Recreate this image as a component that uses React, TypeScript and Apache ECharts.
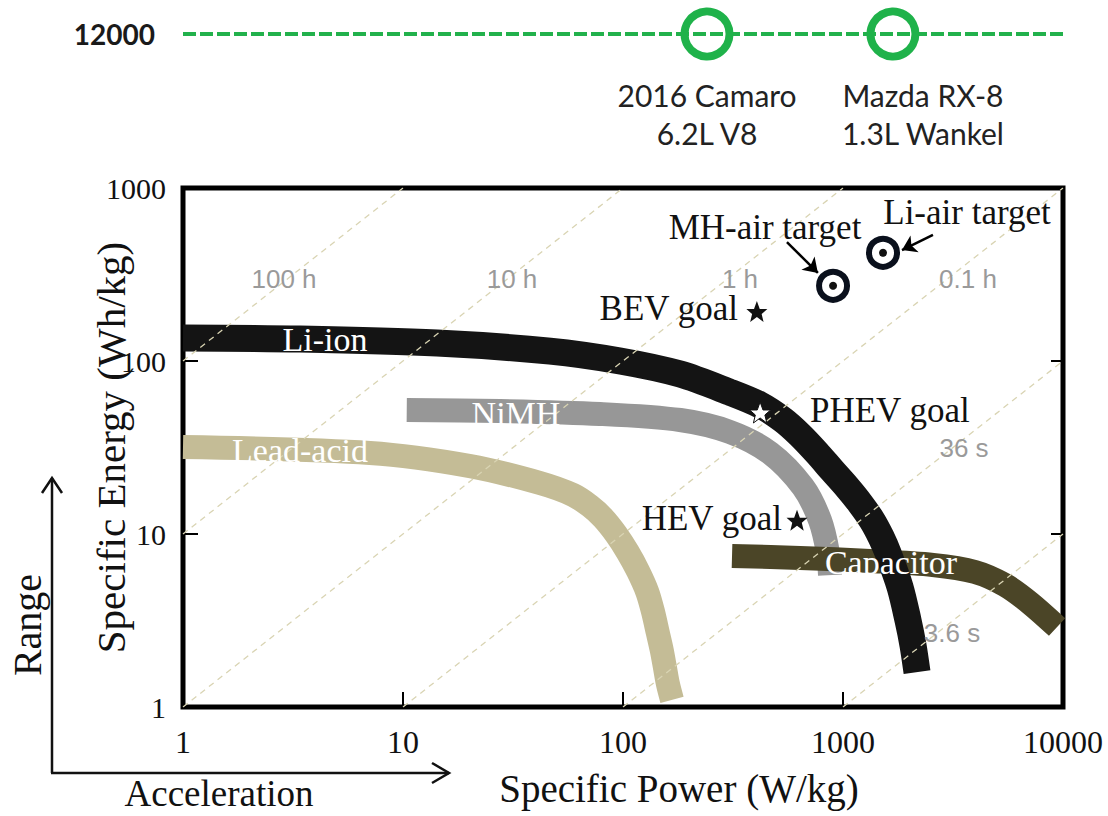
import React, { useEffect, useRef } from 'react';
import * as echarts from 'echarts';

// ---- data (Specific Power W/kg, Specific Energy Wh/kg) ----
const powerTickLabels = ['1', '10', '100', '1000', '10000'];
const energyTickLabels = ['1', '10', '100', '1000'];

const liIon = [[1, 136], [3.4, 134], [14.3, 127], [46.6, 114], [97, 100], [182, 84], [306, 66], [420, 55.7], [534, 45.6], [638, 37.3], [762, 29.4], [891, 23.4], [1042, 18.7], [1194, 15.1], [1355, 12.0], [1489, 9.61], [1602, 7.76], [1816, 4.94], [1974, 3.18], [2080, 2.28], [2170, 1.59]];
const niMH = [[10.4, 52.1], [27.6, 51.4], [78.6, 49.4], [182, 45.6], [306, 38.9], [466, 29.4], [658, 18.7], [786, 12.0], [855, 7.76], [873, 5.79]];
const leadAcid = [[1, 31.8], [7.08, 29.4], [20.2, 24.7], [41.9, 19.7], [59.3, 16.8], [70.8, 14.5], [81.1, 12.4], [92.9, 10.0], [105, 7.87], [117, 6.11], [129, 4.62], [137, 3.54], [144, 2.68], [150, 2.13], [155, 1.7], [160, 1.36], [167, 1.1]];
const capacitor = [[313, 7.46], [638, 7.27], [1327, 6.98], [2564, 6.62], [3981, 6.03], [5450, 5.07], [7080, 3.99], [9400, 2.9]];

const timeLineNames = ['100 h', '10 h', '1 h', '0.1 h', '36 s', '3.6 s'];
const timeLineEnds = [
  [[1, 100], [10, 1000]],
  [[1, 10], [100, 1000]],
  [[1, 1], [1000, 1000]],
  [[10, 1], [10000, 1000]],
  [[100, 1], [10000, 100]],
  [[1000, 1], [10000, 10]],
];

const goalNames = ['BEV goal', 'PHEV goal', 'HEV goal'];
const goalValues = [[406, 193], [420, 50.4], [618, 12.0]];
const targetNames = ['MH-air target', 'Li-air target'];
const targetValues = [[901, 272], [1520, 422]];
const arrowFrom = [[556, 487], [2564, 535]];
const arrowTo = [[769, 323], [1854, 438]];

const engineCategory = ['12000'];
const engineNames = ['2016 Camaro\n6.2L V8', 'Mazda RX-8\n1.3L Wankel'];
const enginePower = [241, 1687];

const SERIF = 'Liberation Serif';
const SANS = 'Liberation Sans';
const STAR = 'path://M12,1 L15,9 L23,9 L17,14 L19,22 L12,17 L5,22 L7,14 L1,9 L9,9 Z';

export default function App() {
  const ref = useRef<HTMLDivElement>(null);
  useEffect(() => {
    if (!ref.current) return;
    document.body.style.margin = '0';
    const chart = echarts.init(ref.current, undefined, { renderer: 'svg' });

    const fmt = (v: number) => String(Math.round(v));
    const band = (name: string, data: number[][], color: string, width: number, z: number) => ({
      name, type: 'line', xAxisIndex: 0, yAxisIndex: 0, data, smooth: 0.3, symbol: 'none',
      lineStyle: { color, width, cap: 'butt', join: 'round' }, z, silent: true,
    });

    const series: any[] = [
      band('Lead-acid', leadAcid, '#c4bc96', 24, 2),
      band('NiMH', niMH, '#979797', 24, 2),
      band('Capacitor', capacitor, '#4b4527', 24, 2),
      band('Li-ion', liIon, '#141414', 27, 2),
    ];
    timeLineEnds.forEach((pts, i) => {
      series.push({
        name: timeLineNames[i], type: 'line', xAxisIndex: 0, yAxisIndex: 0, data: pts, symbol: 'none',
        lineStyle: { color: '#d9d4b3', width: 1.3, type: [6, 5] }, z: 3, silent: true,
      });
    });
    series.push({
      name: 'goals', type: 'scatter', xAxisIndex: 0, yAxisIndex: 0, z: 5,
      data: goalValues.map((v, i) => ({
        name: goalNames[i], value: v,
        itemStyle: i === 1 ? { color: '#ffffff', borderColor: '#111', borderWidth: 1, opacity: 1 } : { color: '#111', opacity: 1 },
      })),
      symbol: STAR, symbolSize: 21,
    });
    series.push({
      name: 'targets', type: 'scatter', xAxisIndex: 0, yAxisIndex: 0, z: 5,
      data: targetValues.map((v, i) => ({ name: targetNames[i], value: v })),
      symbol: 'circle', symbolSize: 28,
      itemStyle: { color: '#ffffff', borderColor: '#0a101c', borderWidth: 6, opacity: 1 },
      markLine: {
        silent: true, symbol: ['none', 'arrow'], symbolSize: 14,
        lineStyle: { color: '#000', width: 2.5, type: 'solid', opacity: 1 }, label: { show: false },
        data: arrowFrom.map((f, i) => [{ coord: f }, { coord: arrowTo[i] }]),
      },
    });
    series.push({
      name: 'target centres', type: 'scatter', xAxisIndex: 0, yAxisIndex: 0, z: 6,
      data: targetValues, symbol: 'circle', symbolSize: 8, itemStyle: { color: '#111', opacity: 1 },
    });
    // top panel
    series.push({
      name: 'gasoline', type: 'line', xAxisIndex: 1, yAxisIndex: 2, symbol: 'none',
      data: [[1, engineCategory[0]], [10000, engineCategory[0]]],
      lineStyle: { color: '#22b14c', width: 4, type: [13, 4] }, z: 2,
    });
    series.push({
      name: 'engines', type: 'scatter', xAxisIndex: 1, yAxisIndex: 2, z: 3,
      data: enginePower.map((p, i) => ({
        name: engineNames[i], value: [p, engineCategory[0]],
        label: { offset: i === 1 ? [30, 0] : [0, 0] },
      })),
      symbol: 'circle', symbolSize: 45,
      itemStyle: { color: 'rgba(0,0,0,0)', borderColor: '#1fb24a', borderWidth: 8, opacity: 1 },
      label: {
        show: true, position: 'bottom', distance: 15, formatter: '{b}',
        fontFamily: 'Lato', fontSize: 30, lineHeight: 38, color: '#222', align: 'center',
      },
    });

    const txt = (text: string, x: number, y: number, opts: any) => ({
      type: 'text', x, y, z: 20, silent: true,
      style: { text, align: 'center', verticalAlign: 'middle', ...opts },
    });
    const annSerif = { fontFamily: SERIF, fontSize: 35, fill: '#111' };
    const curveLbl = { fontFamily: SERIF, fontSize: 34, fill: '#ffffff' };
    const timeLbl = { fontFamily: SANS, fontSize: 26, fill: '#9a9a9a' };

    const graphic: any[] = [
      txt(targetNames[0], 765, 227, annSerif),
      txt(targetNames[1], 967, 212, annSerif),
      txt(goalNames[0], 738, 308, { ...annSerif, align: 'right' }),
      txt(goalNames[1], 810, 410, { ...annSerif, align: 'left' }),
      txt(goalNames[2], 782, 518, { ...annSerif, align: 'right' }),
      txt('Li-ion', 325, 339, curveLbl),
      txt('NiMH', 516, 413, curveLbl),
      txt('Lead-acid', 300, 450, curveLbl),
      txt('Capacitor', 891, 562, curveLbl),
      txt(timeLineNames[0], 284, 279, timeLbl),
      txt(timeLineNames[1], 512, 279, timeLbl),
      txt(timeLineNames[2], 740, 279, timeLbl),
      txt(timeLineNames[3], 968, 279, timeLbl),
      txt(timeLineNames[4], 964, 448, timeLbl),
      txt(timeLineNames[5], 952, 633, timeLbl),
      // Range / Acceleration arrows
      { type: 'line', shape: { x1: 52, y1: 773, x2: 52, y2: 478 }, style: { stroke: '#111', lineWidth: 2.5 }, z: 20 },
      { type: 'polyline', shape: { points: [[42, 493], [52, 478], [62, 493]] }, style: { stroke: '#111', lineWidth: 2.5, fill: 'none' }, z: 20 },
      { type: 'line', shape: { x1: 51, y1: 773, x2: 449, y2: 773 }, style: { stroke: '#111', lineWidth: 2.5 }, z: 20 },
      { type: 'polyline', shape: { points: [[432, 763], [449, 773], [432, 783]] }, style: { stroke: '#111', lineWidth: 2.5, fill: 'none' }, z: 20 },
      { type: 'text', x: 27, y: 625, rotation: Math.PI / 2, z: 20, style: { text: 'Range', align: 'center', verticalAlign: 'middle', fontFamily: SERIF, fontSize: 40, fill: '#111' } },
      txt('Acceleration', 219, 793, { fontFamily: SERIF, fontSize: 37, fill: '#111' }),
    ];

    const option: any = {
      animation: false,
      backgroundColor: '#ffffff',
      grid: [
        { left: 183, top: 188, width: 880, height: 519, show: true, borderColor: '#000', borderWidth: 5, backgroundColor: 'rgba(0,0,0,0)' },
        { left: 183, top: 14, width: 880, height: 40 },
      ],
      xAxis: [
        {
          type: 'log', logBase: 10, min: 1, max: 10000, gridIndex: 0,
          name: 'Specific Power (W/kg)', nameLocation: 'middle', nameGap: 62, nameMoveOverlap: false,
          nameTextStyle: { fontFamily: SERIF, fontSize: 39, color: '#111', padding: [0, 0, 0, 112] },
          axisLine: { show: false },
          axisTick: { show: true, inside: true, length: 15, lineStyle: { color: '#000', width: 2 } },
          axisLabel: {
            margin: 19, fontFamily: SERIF, fontSize: 32, color: '#111',
            formatter: (v: number) => powerTickLabels.includes(fmt(v)) ? fmt(v) : '',
          },
          splitLine: { show: false }, minorTick: { show: false },
        },
        { type: 'log', logBase: 10, min: 1, max: 10000, gridIndex: 1, show: false },
      ],
      yAxis: [
        {
          type: 'log', logBase: 10, min: 1, max: 1000, gridIndex: 0,
          name: 'Specific Energy (Wh/kg)', nameLocation: 'middle', nameGap: 52, nameMoveOverlap: false,
          nameTextStyle: { fontFamily: SERIF, fontSize: 41, color: '#111' },
          axisLine: { show: false },
          axisTick: { show: true, inside: true, length: 15, lineStyle: { color: '#000', width: 2 } },
          axisLabel: {
            margin: 17, fontFamily: SERIF, fontSize: 30, color: '#111',
            formatter: (v: number) => energyTickLabels.includes(fmt(v)) ? fmt(v) : '',
          },
          splitLine: { show: false },
        },
        {
          type: 'log', logBase: 10, min: 1, max: 1000, gridIndex: 0, position: 'right',
          axisLine: { show: false },
          axisTick: { show: true, inside: true, length: 12, lineStyle: { color: '#000', width: 2 } },
          axisLabel: { show: false }, splitLine: { show: false },
        },
        {
          type: 'category', gridIndex: 1, data: engineCategory,
          axisLine: { show: false }, axisTick: { show: false }, splitLine: { show: false },
          axisLabel: { margin: 28, fontFamily: 'Lato', fontWeight: 'bold', fontSize: 28, color: '#1a1a1a', padding: [10, 0, 0, 0] },
        },
      ],
      series,
      graphic,
    };
    chart.setOption(option);
    return () => chart.dispose();
  }, []);
  return <div ref={ref} style={{ position: 'absolute', left: 0, top: 0, width: 1108, height: 816 }} />;
}
